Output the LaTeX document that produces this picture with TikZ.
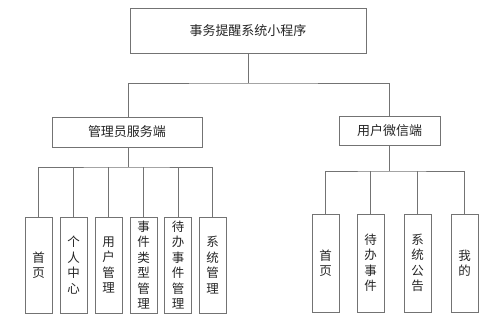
\documentclass[tikz,border=0pt]{standalone}
\usepackage{fontspec}
\setmainfont{Noto Sans CJK SC}
\begin{document}
\begin{tikzpicture}[x=1pt,y=1pt,
  every node/.append style={text=black!85},
  box/.style={draw=black!55, line width=0.9pt, inner sep=0pt, fill=white},
  hbox/.style={box, font=\fontsize{13}{15}\selectfont},
  vbox/.style={box, minimum width=27pt, align=center, font=\fontsize{12.5}{15.5}\selectfont},
  conn/.style={draw=black!55, line width=0.9pt}]
\useasboundingbox (0,0) rectangle (499,321);
\node[hbox, minimum width=236pt, minimum height=45pt] (top) at (248,290.5) {事务提醒系统小程序};
\node[hbox, minimum width=150pt, minimum height=30pt] (adm) at (127,189) {管理员服务端};
\node[hbox, minimum width=101pt, minimum height=29pt] (usr) at (389.5,190.5) {用户微信端};
% admin children
\node[vbox, minimum height=96pt] (a1) at (38.5,56) {首\\页};
\node[vbox, minimum height=96pt] (a2) at (73.5,56) {个\\人\\中\\心};
\node[vbox, minimum height=96pt] (a3) at (108.5,56) {用\\户\\管\\理};
\node[vbox, minimum height=96pt] (a4) at (143.5,56) {事\\件\\类\\型\\管\\理};
\node[vbox, minimum height=96pt] (a5) at (178,56) {待\\办\\事\\件\\管\\理};
\node[vbox, minimum height=96pt] (a6) at (212.5,56) {系\\统\\管\\理};
% user children
\node[vbox, minimum height=98pt] (u1) at (325.5,58) {首\\页};
\node[vbox, minimum height=98pt] (u2) at (370.5,58) {待\\办\\事\\件};
\node[vbox, minimum height=98pt] (u3) at (417.5,58) {系\\统\\公\\告};
\node[vbox, minimum height=98pt] (u4) at (464.5,58) {我\\的};
% junctions
\coordinate (b0) at (248,238);
\coordinate (b1) at (128,154);
\coordinate (b2) at (389,150);
% connectors
\draw[conn] (top.south) -- (b0);
\draw[conn] (adm.north -| b1) |- (b0) -| (usr.north -| b2);
\draw[conn] (adm.south -| b1) -- (b1);
\draw[conn] (a1.north) |- (b1) -| (a6.north);
\foreach \n in {a2,a3,a4,a5} \draw[conn] (\n.north) -- (\n.north |- b1);
\draw[conn] (usr.south -| b2) -- (b2);
\draw[conn] (u1.north) |- (b2) -| (u4.north);
\foreach \n in {u2,u3} \draw[conn] (\n.north) -- (\n.north |- b2);
\end{tikzpicture}
\end{document}
